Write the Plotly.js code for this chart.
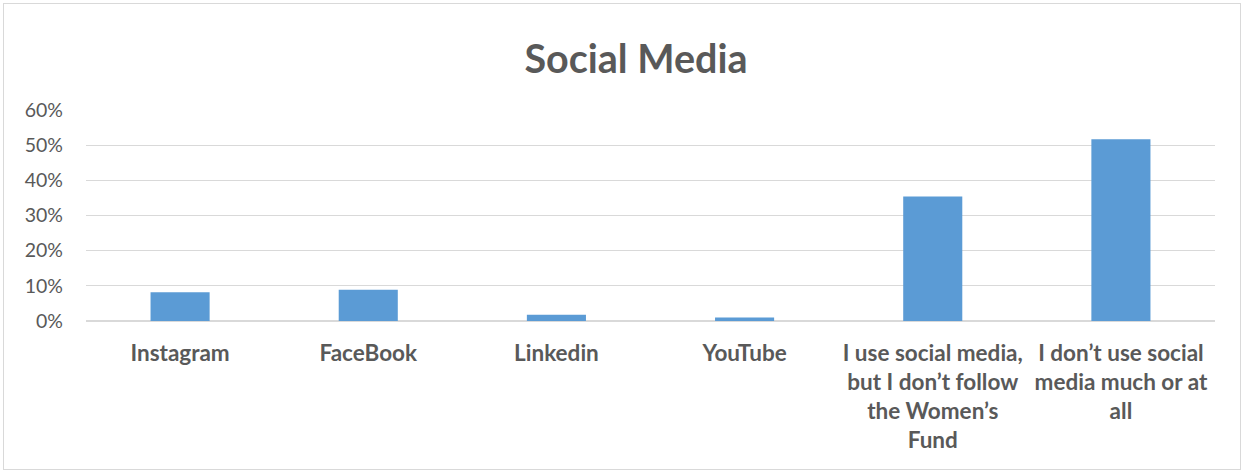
<!DOCTYPE html>
<html>
<head>
<meta charset="utf-8">
<script src="https://cdn.plot.ly/plotly-3.0.1.min.js"></script>
<style>
html, body { margin: 0; padding: 0; background: #fff; }
#wrap { position: absolute; left: 3px; top: 3px; width: 1236px; height: 465px; border: 1px solid #d9d9d9; }
#chart { width: 1236px; height: 465px; }
</style>
</head>
<body>
<div id="wrap"><div id="chart"></div></div>
<script>
const categories = ["Instagram", "FaceBook", "Linkedin", "YouTube",
  "I use social media,<br>but I don’t follow<br>the Women’s<br>Fund",
  "I don’t use social<br>media much or at<br>all"];
const values = [0.082, 0.089, 0.018, 0.010, 0.354, 0.517];
const yTickVals = [0, 0.1, 0.2, 0.3, 0.4, 0.5, 0.6];
const yTickText = ["0%", "10%", "20%", "30%", "40%", "50%", "60%"];
const titleText = "Social Media";

const W = 1236, H = 465;
const trace = {
  type: "bar",
  x: categories,
  y: values,
  marker: { color: "#5b9bd5", line: { width: 0 } },
  hoverinfo: "none"
};
const layout = {
  width: W, height: H,
  margin: { l: 82, r: 25, t: 105.5, b: 147.5, pad: 0 },
  paper_bgcolor: "#ffffff",
  plot_bgcolor: "#ffffff",
  bargap: 0.686,
  showlegend: false,
  font: { family: "Lato, 'Open Sans', sans-serif", color: "#595959" },
  title: {
    text: titleText,
    font: { family: "Lato, sans-serif", size: 39.5, weight: "bold", color: "#595959" },
    xref: "container", x: 632 / W, xanchor: "center",
    yref: "container", y: 1 - 55 / H, yanchor: "middle"
  },
  xaxis: {
    type: "category",
    showgrid: false, showline: false, zeroline: false,
    ticks: "", ticklabelstandoff: 16,
    tickfont: { family: "Lato, sans-serif", size: 22.5, weight: "bold", color: "#595959" },
    fixedrange: true
  },
  yaxis: {
    range: [0, 0.6],
    tickvals: yTickVals, ticktext: yTickText,
    showgrid: true, gridcolor: "#d9d9d9", gridwidth: 1.3,
    zeroline: true, zerolinecolor: "#d9d9d9", zerolinewidth: 1.3,
    showline: false, ticks: "", ticklabelstandoff: 22,
    tickfont: { family: "Lato, sans-serif", size: 19.5, color: "#595959" },
    fixedrange: true
  }
};
Plotly.newPlot("chart", [trace], layout, { displayModeBar: false, staticPlot: true });
</script>
</body>
</html>
